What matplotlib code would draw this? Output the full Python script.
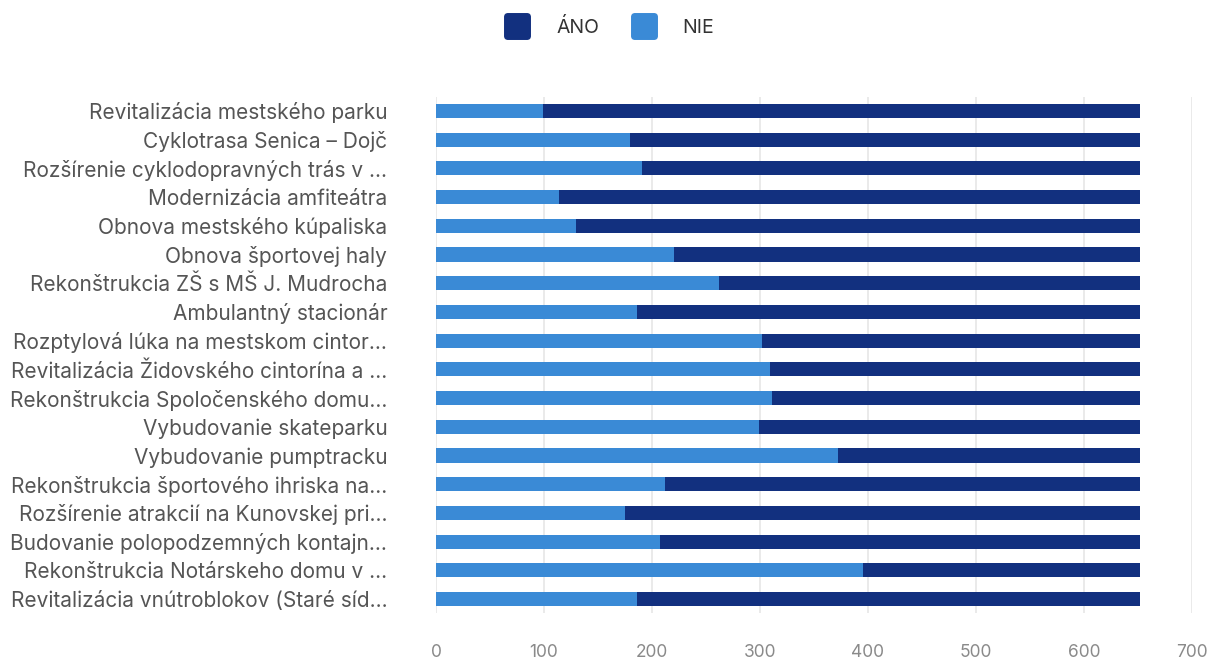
import matplotlib
matplotlib.use("Agg")
import matplotlib.pyplot as plt
from matplotlib.lines import Line2D
from matplotlib.markers import MarkerStyle

plt.rcParams['font.family'] = ['Inter', 'DejaVu Sans']

# ----------------------
# Data
# ----------------------
projects = [
    "Revitalizácia mestského parku",
    "Cyklotrasa Senica – Dojč",
    "Rozšírenie cyklodopravných trás v ...",
    "Modernizácia amfiteátra",
    "Obnova mestského kúpaliska",
    "Obnova športovej haly",
    "Rekonštrukcia ZŠ s MŠ J. Mudrocha",
    "Ambulantný stacionár",
    "Rozptylová lúka na mestskom cintor...",
    "Revitalizácia Židovského cintorína a ...",
    "Rekonštrukcia Spoločenského domu...",
    "Vybudovanie skateparku",
    "Vybudovanie pumptracku",
    "Rekonštrukcia športového ihriska na...",
    "Rozšírenie atrakcií na Kunovskej pri...",
    "Budovanie polopodzemných kontajn...",
    "Rekonštrukcia Notárskeho domu v ...",
    "Revitalizácia vnútroblokov (Staré síd...",
]
nie = [99, 180, 191, 114, 130, 220, 262, 186, 302,
       309, 311, 299, 372, 212, 175, 207, 395, 186]
ano = [553, 472, 461, 538, 522, 432, 390, 466, 350,
       343, 341, 353, 280, 440, 477, 445, 257, 466]

ano_color = '#12307f'
nie_color = '#3a8ad6'

# ----------------------
# Plot
# ----------------------
fig = plt.figure(figsize=(12.12, 6.62), dpi=100)
ax = fig.add_axes([0.3597, 0.0734, 0.6238, 0.7807])

y = range(len(projects))
ax.barh(y, nie, height=0.49, color=nie_color, zorder=3)
ax.barh(y, ano, left=nie, height=0.49, color=ano_color, zorder=3)

ax.set_xlim(0, 700)
ax.set_ylim(len(projects) - 0.5, -0.5)
ax.set_xticks(range(0, 701, 100))
ax.set_yticks(list(y))
ax.set_yticklabels(projects)

for s in ax.spines.values():
    s.set_visible(False)
ax.grid(True, axis='x', color='#e6e6e6', linewidth=1.2, zorder=0)
ax.tick_params(axis='y', length=0, pad=35, labelsize=15, labelcolor='#555555')
ax.tick_params(axis='x', length=0, pad=22, labelsize=12.5, labelcolor='#8a8a8a')

square = MarkerStyle('s', joinstyle='round')
handles = [
    Line2D([], [], marker=square, linestyle='', markersize=14, markeredgewidth=5,
           color=ano_color),
    Line2D([], [], marker=square, linestyle='', markersize=14, markeredgewidth=5,
           color=nie_color),
]
fig.legend(handles, ["ÁNO", "NIE"], loc='center', bbox_to_anchor=(0.5, 0.958),
           ncol=2, frameon=False, fontsize=14, handletextpad=1.0,
           columnspacing=1.3, labelcolor='#333333')

fig.savefig("out.png", dpi=100)
